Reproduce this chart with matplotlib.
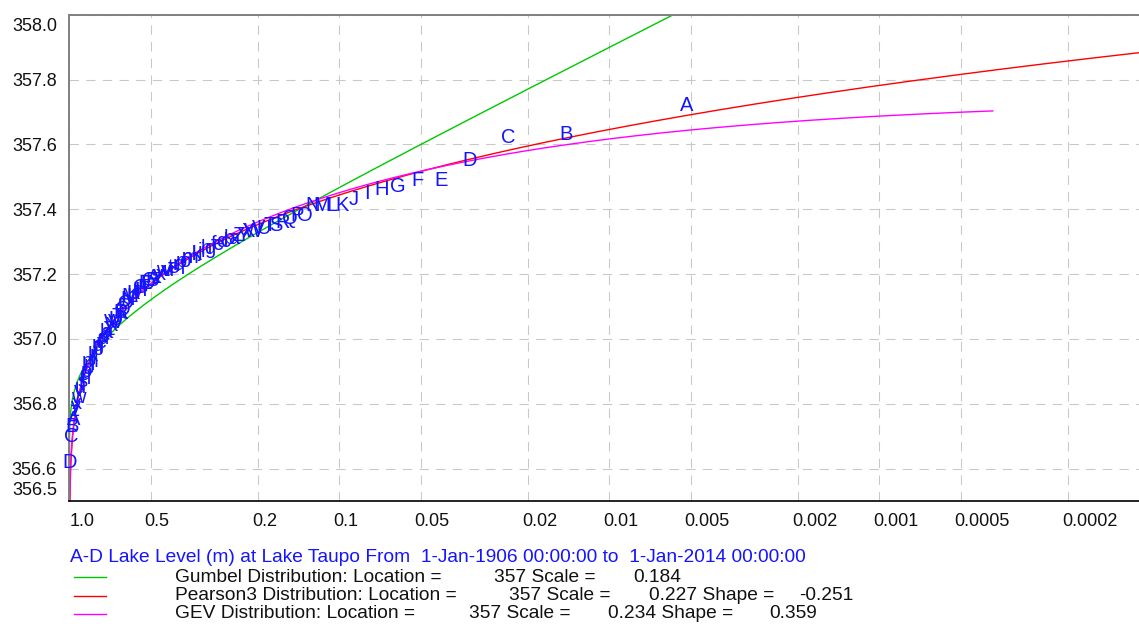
import numpy as np
import matplotlib
matplotlib.use("Agg")
import matplotlib.pyplot as plt
import matplotlib.transforms as mtransforms
from matplotlib.lines import Line2D
from statistics import NormalDist

plt.rcParams['font.family'] = ['Liberation Sans', 'DejaVu Sans']

# annual maximum lake levels, ranked (largest first)
levels = [357.72, 357.63, 357.62, 357.55, 357.49, 357.49, 357.47, 357.46, 357.45, 357.43,
          357.41, 357.41, 357.41, 357.41, 357.38, 357.38, 357.37, 357.36, 357.35, 357.35,
          357.34, 357.34, 357.33, 357.33, 357.32, 357.32, 357.31, 357.31, 357.30, 357.30,
          357.29, 357.29, 357.28, 357.28, 357.27, 357.27, 357.26, 357.26, 357.25, 357.25,
          357.24, 357.24, 357.23, 357.23, 357.22, 357.22, 357.21, 357.21, 357.21, 357.20,
          357.20, 357.19, 357.19, 357.18, 357.18, 357.17, 357.17, 357.16, 357.16, 357.15,
          357.15, 357.14, 357.14, 357.13, 357.13, 357.12, 357.11, 357.10, 357.09, 357.08,
          357.08, 357.07, 357.06, 357.05, 357.05, 357.04, 357.03, 357.03, 357.02, 357.02,
          357.01, 357.00, 356.99, 356.99, 356.98, 356.97, 356.96, 356.95, 356.95, 356.94,
          356.93, 356.92, 356.91, 356.90, 356.89, 356.88, 356.87, 356.86, 356.85, 356.84,
          356.82, 356.80, 356.79, 356.78, 356.75, 356.73, 356.70, 356.62]
alphabet = "ABCDEFGHIJKLMNOPQRSTUVWXYZabcdefghijklmnopqrstuvwxyz"
point_labels = (alphabet * 3)[:len(levels)]

# fitted distributions
gumbel_loc, gumbel_scale = 357.053, 0.184
p3_loc, p3_scale, p3_shape = 357.16, 0.227, -0.251
gev_loc, gev_scale, gev_shape = 357.09, 0.234, 0.359

xticks = [1.0, 0.5, 0.2, 0.1, 0.05, 0.02, 0.01, 0.005, 0.002, 0.001, 0.0005, 0.0002]
xtick_labels = ['1.0', '0.5', '0.2', '0.1', '0.05', '0.02', '0.01', '0.005', '0.002',
                '0.001', '0.0005', '0.0002']
yticks = [356.5, 356.6, 356.8, 357.0, 357.2, 357.4, 357.6, 357.8, 358.0]

title = "A-D Lake Level (m) at Lake Taupo From  1-Jan-1906 00:00:00 to  1-Jan-2014 00:00:00"

W, H = 1139, 624
fig = plt.figure(figsize=(W / 100, H / 100), dpi=100)
ax = fig.add_axes([69.4 / W, 1 - 501 / H, 1 - 69.4 / W, (501 - 14.7) / H])

# Gringorten plotting positions
n = len(levels)
rank = np.arange(1, n + 1)
p_plot = (rank - 0.44) / (n + 0.12)

# exceedance probabilities for the curves
F_lo = np.logspace(-12, np.log10(0.5), 400)
p_hi = np.logspace(np.log10(0.5), np.log10(1.093e-4), 400)
p = np.concatenate([1 - F_lo, p_hi])
F = np.concatenate([F_lo, 1 - p_hi])

gumbel = gumbel_loc + gumbel_scale * (-np.log(-np.log(F)))
nd = NormalDist()
z = np.array([nd.inv_cdf(f) for f in F])
g = p3_shape
K = (2 / g) * ((1 + g * z / 6 - g ** 2 / 36) ** 3 - 1)
pearson = p3_loc + p3_scale * K
gev = gev_loc + gev_scale / gev_shape * (1 - (-np.log(F)) ** gev_shape)
gev_mask = p >= 3.8e-4

ax.plot(p, gumbel, color='#00c800', lw=1.0)
ax.plot(p, pearson, color='#ff0000', lw=1.0)
ax.plot(p[gev_mask], gev[gev_mask], color='#ff00ff', lw=1.0)

# letters mark the ranked observations, not clipped at the axis edge
for pp, v, lab in zip(p_plot, levels, point_labels):
    ax.text(pp, v, lab, color='#1414ff', fontsize=14.5, ha='center', va='center',
            clip_on=False)

ax.set_xscale('log')
ax.set_xlim(1.0, 1.093e-4)
ax.set_ylim(356.5, 358.0)
ax.set_xticks(xticks)
ax.set_xticklabels(xtick_labels)
ax.xaxis.set_minor_locator(matplotlib.ticker.NullLocator())
ax.set_yticks(yticks)
ax.set_yticklabels(['%.1f' % v for v in yticks])
ax.tick_params(length=0, labelsize=13, colors='#111111')
ax.tick_params(axis='x', pad=9)
ax.tick_params(axis='y', pad=9)
ax.grid(True, color='#c8c8c8', lw=0.75, linestyle=(0, (9, 7)))
ax.set_axisbelow(True)

ax.spines['right'].set_visible(False)
ax.spines['top'].set_color('#808080')
ax.spines['left'].set_color('#808080')
ax.spines['top'].set_linewidth(1.4)
ax.spines['left'].set_linewidth(1.4)
ax.spines['bottom'].set_color('#000000')
ax.spines['bottom'].set_linewidth(1.2)

# tick label offsets
for lab in ax.get_xticklabels():
    dx = 0.6 if lab.get_text() == '1.0' else -6
    lab.set_horizontalalignment('left')
    lab.set_transform(lab.get_transform() +
                      mtransforms.ScaledTranslation(dx / 100, 0, fig.dpi_scale_trans))
for lab in ax.get_yticklabels():
    dy = 0
    if lab.get_text() == '358.0':
        dy = -10
    elif lab.get_text() == '356.5':
        dy = 13
    lab.set_transform(lab.get_transform() +
                      mtransforms.ScaledTranslation(0, dy / 100, fig.dpi_scale_trans))


def px(x, y):
    return x / W, 1 - y / H


# legend block
fig.text(*px(70, 557), title, color='#1414ff', fontsize=13.8, va='center')
legend_rows = [
    ('#00c800', 577, [("Gumbel Distribution: Location =", 175), ("357 Scale =", 494),
                      ("0.184", 633)]),
    ('#ff0000', 596, [("Pearson3 Distribution: Location =", 175), ("357 Scale =", 509),
                      ("0.227 Shape =", 649), ("-0.251", 799)]),
    ('#ff00ff', 614, [("GEV Distribution: Location =", 175), ("357 Scale =", 469),
                      ("0.234 Shape =", 608), ("0.359", 769)]),
]
for color, yy, parts in legend_rows:
    x0, y0 = px(74, yy)
    x1, _ = px(106, yy)
    fig.add_artist(Line2D([x0, x1], [y0, y0], color=color, lw=1.0))
    for txt, xx in parts:
        fig.text(*px(xx, yy), txt, color='#111111', fontsize=13.8, va='center')

fig.savefig('out.png', dpi=100)
